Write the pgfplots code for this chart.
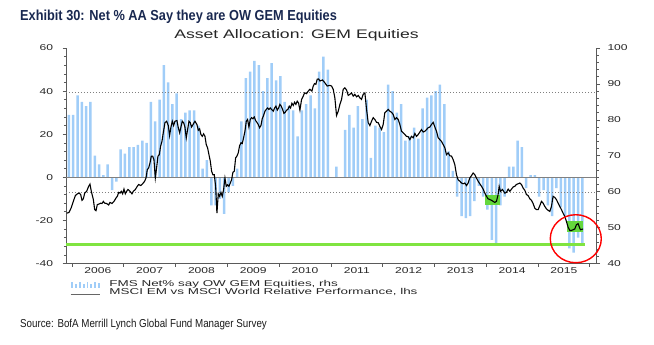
\documentclass[border=0pt]{standalone}
\usepackage{fontspec}
\usepackage{pgfplots}
\pgfplotsset{compat=1.18}
\setmainfont{Liberation Sans}
\newfontfamily\chartfont[FakeStretch=1.42]{Liberation Sans}
\newfontfamily\legfont[FakeStretch=1.58]{Liberation Sans}
\newfontfamily\titlefont[FakeStretch=0.88]{Liberation Sans}
\newfontfamily\srcfont[FakeStretch=0.85]{Liberation Sans}
\definecolor{barblue}{RGB}{160,205,248}
\definecolor{fmsgreen}{RGB}{128,228,64}
\definecolor{boxgreen}{RGB}{100,215,60}
\definecolor{titleblue}{RGB}{25,40,80}
\definecolor{axgray}{RGB}{90,90,90}
\begin{document}
\begin{tikzpicture}[x=1pt,y=1pt]
\path[use as bounding box] (-66,-81.5) rectangle (588,263.5);
\begin{axis}[
  at={(0,0)}, anchor=south west, scale only axis,
  width=530.5pt, height=215.5pt,
  xmin=2005.884, xmax=2016.13, ymin=-40, ymax=60,
  axis y line*=left, axis x line*=bottom,
  axis line style={-, axgray, line width=0.8pt},
  xtick={2006,2007,2008,2009,2010,2011,2012,2013,2014,2015,2016},
  x tick label as interval,
  xticklabels={2006,2007,2008,2009,2010,2011,2012,2013,2014,2015},
  ytick={-40,-20,0,20,40,60},
  yticklabels={-40,-20,0,20,40,60},
  minor y tick num=4,
  tick align=outside, major tick length=3.5pt, minor tick length=2.2pt,
  tick style={axgray, line width=0.6pt},
  tick label style={font=\chartfont\fontsize{8.5}{10}\selectfont, text=black!85},
  yticklabel style={xshift=-6pt},
  xticklabel style={yshift=2.5pt},
]
\addplot[ybar, bar width=2.5pt, fill=barblue, draw=none] table {
2005.940 29
2006.023 29
2006.107 38
2006.190 35
2006.273 33
2006.357 35
2006.440 10
2006.523 6
2006.607 1
2006.690 6
2006.773 -6
2006.857 -2
2006.940 13
2007.023 11
2007.107 14
2007.190 14
2007.273 15
2007.357 17
2007.440 16
2007.523 35
2007.607 26
2007.690 36
2007.773 52
2007.857 44
2007.940 34
2008.023 39
2008.107 27
2008.190 30
2008.273 31
2008.357 31
2008.440 24
2008.523 4
2008.607 8
2008.690 -13
2008.773 -13
2008.857 -10
2008.940 -17
2009.023 -7
2009.107 -4
2009.190 4
2009.273 26
2009.357 46
2009.440 49
2009.523 54
2009.607 52
2009.690 40
2009.773 46
2009.857 53
2009.940 45
2010.023 47
2010.107 35
2010.190 33
2010.273 31
2010.357 19
2010.440 31
2010.523 34
2010.607 38
2010.690 32
2010.773 49
2010.857 56
2010.940 50
2011.107 5
2011.273 22
2011.357 29
2011.440 23
2011.523 33
2011.607 27
2011.690 36
2011.773 9
2011.857 24
2011.940 23
2012.023 21
2012.107 43
2012.190 40
2012.273 30
2012.357 34
2012.440 17
2012.523 19
2012.607 23
2012.690 18
2012.773 32
2012.857 37
2012.940 38
2013.023 40
2013.107 43
2013.190 34
2013.273 12
2013.357 3
2013.440 -9
2013.523 -18
2013.607 -19
2013.690 -18
2013.773 -11
2013.857 -4
2013.940 -9
2014.023 -15
2014.107 -29
2014.190 -31
2014.273 -13
2014.357 -9
2014.440 5
2014.523 5
2014.607 17
2014.690 14
2014.773 -5
2014.857 1
2014.940 1
2015.023 -9
2015.107 -6
2015.190 -13
2015.273 -18
2015.357 -5
2015.440 -14
2015.523 -18
2015.607 -33
2015.690 -35
2015.773 -28
2015.857 -31
};
\addplot[black!50, line width=0.8pt] coordinates {(2005.884,0) (2016.13,0)};
\addplot[black!50, line width=0.8pt, dash pattern=on 1.2pt off 1.8pt] coordinates {(2005.884,39.2) (2016.13,39.2)};
\addplot[black!50, line width=0.8pt, dash pattern=on 1.2pt off 1.8pt] coordinates {(2005.884,-7.2) (2016.13,-7.2)};
\addplot[fmsgreen, line width=3.5pt] coordinates {(2005.884,-31.2) (2015.90,-31.2)};
\end{axis}
\begin{axis}[
  at={(0,0)}, anchor=south west, scale only axis,
  width=530.5pt, height=215.5pt,
  xmin=2005.884, xmax=2016.13, ymin=40, ymax=100,
  axis y line*=right, axis x line=none,
  axis line style={-, axgray, line width=0.8pt},
  xtick=\empty,
  ytick={40,50,60,70,80,90,100},
  yticklabels={40,50,60,70,80,90,100},
  minor y tick num=4,
  tick align=outside, major tick length=3.5pt, minor tick length=2.2pt,
  tick style={axgray, line width=0.6pt},
  tick label style={font=\chartfont\fontsize{8.5}{10}\selectfont, text=black!85},
  yticklabel style={xshift=4pt},
  clip=false,
]
\addplot[fill=boxgreen, draw=none] coordinates {(2013.97,56.4) (2014.26,56.4) (2014.26,59.2) (2013.97,59.2)} -- cycle;
\addplot[fill=boxgreen, draw=none] coordinates {(2015.56,48.7) (2015.87,48.7) (2015.87,51.9) (2015.56,51.9)} -- cycle;
\addplot[black, line width=1.1pt] table {
2005.897 54.0
2005.942 54.2
2005.981 55.4
2006.026 57.3
2006.064 58.9
2006.103 59.4
2006.142 59.6
2006.167 59.2
2006.193 57.6
2006.219 58.0
2006.245 59.6
2006.283 60.1
2006.322 61.5
2006.347 62.1
2006.373 60.1
2006.412 57.8
2006.438 55.0
2006.463 54.7
2006.489 56.4
2006.528 56.6
2006.553 56.8
2006.579 56.7
2006.605 57.3
2006.631 56.8
2006.669 56.7
2006.708 56.3
2006.734 57.0
2006.772 56.7
2006.811 57.3
2006.849 58.2
2006.875 58.7
2006.901 59.8
2006.927 59.6
2006.952 60.1
2006.978 59.4
2007.004 60.7
2007.030 59.4
2007.055 60.1
2007.081 60.6
2007.120 60.1
2007.158 59.4
2007.184 60.1
2007.223 60.6
2007.261 61.5
2007.287 62.0
2007.326 61.7
2007.364 62.2
2007.403 62.9
2007.429 63.8
2007.454 66.1
2007.480 66.6
2007.506 68.0
2007.532 69.9
2007.557 69.9
2007.583 68.9
2007.609 63.8
2007.634 66.6
2007.660 69.9
2007.686 70.3
2007.712 72.7
2007.737 74.0
2007.763 76.4
2007.795 79.2
2007.828 79.6
2007.860 78.4
2007.885 75.6
2007.911 78.0
2007.937 79.6
2007.963 78.4
2007.988 79.6
2008.027 79.8
2008.053 77.8
2008.079 76.4
2008.104 78.0
2008.130 79.6
2008.156 79.2
2008.181 78.0
2008.207 75.0
2008.233 77.3
2008.259 79.6
2008.284 79.2
2008.310 78.0
2008.349 79.0
2008.375 79.6
2008.413 78.7
2008.439 77.1
2008.465 77.5
2008.490 75.9
2008.516 75.4
2008.542 76.1
2008.568 75.4
2008.593 73.1
2008.619 72.2
2008.645 70.3
2008.671 68.5
2008.696 65.7
2008.722 64.7
2008.748 64.7
2008.774 61.5
2008.799 54.0
2008.825 59.4
2008.851 58.7
2008.877 59.8
2008.902 58.7
2008.928 60.6
2008.954 63.8
2008.979 61.5
2009.005 61.9
2009.031 61.5
2009.057 62.4
2009.082 63.3
2009.108 65.4
2009.134 65.7
2009.160 69.4
2009.185 69.9
2009.211 70.8
2009.237 72.8
2009.263 73.6
2009.288 73.4
2009.314 75.0
2009.340 76.8
2009.366 79.6
2009.391 80.1
2009.417 78.0
2009.443 80.1
2009.468 80.6
2009.494 80.3
2009.520 80.8
2009.546 79.8
2009.571 79.3
2009.597 78.7
2009.623 77.8
2009.649 78.4
2009.674 80.3
2009.700 81.2
2009.726 82.4
2009.752 82.9
2009.777 83.3
2009.803 82.9
2009.829 83.3
2009.887 82.4
2009.913 83.3
2009.938 83.8
2009.964 82.7
2009.990 83.3
2010.015 84.3
2010.041 83.8
2010.067 82.9
2010.093 81.8
2010.118 82.1
2010.144 82.7
2010.170 82.9
2010.196 83.8
2010.221 83.3
2010.247 84.6
2010.273 84.0
2010.299 84.9
2010.324 84.3
2010.350 85.2
2010.376 84.7
2010.402 82.7
2010.434 85.7
2010.466 86.6
2010.492 87.5
2010.530 87.3
2010.562 88.0
2010.595 88.5
2010.633 88.0
2010.659 89.4
2010.685 90.1
2010.710 89.9
2010.736 91.3
2010.762 91.4
2010.788 90.8
2010.839 91.1
2010.884 90.3
2010.929 89.4
2010.981 89.6
2011.013 89.4
2011.045 88.5
2011.077 86.1
2011.109 81.2
2011.142 82.4
2011.174 84.3
2011.206 85.7
2011.238 88.5
2011.270 88.9
2011.303 88.3
2011.335 86.8
2011.367 87.1
2011.399 87.5
2011.431 86.6
2011.463 87.1
2011.496 86.4
2011.528 86.8
2011.560 86.1
2011.592 85.7
2011.624 87.1
2011.657 87.5
2011.689 82.9
2011.721 79.2
2011.753 78.4
2011.785 79.6
2011.817 80.6
2011.849 80.1
2011.882 79.3
2011.914 79.2
2011.946 78.2
2011.978 77.3
2012.010 78.7
2012.042 82.0
2012.075 82.4
2012.107 82.9
2012.139 82.4
2012.171 82.1
2012.203 81.5
2012.236 80.1
2012.268 80.6
2012.300 80.1
2012.332 78.7
2012.364 76.8
2012.397 76.4
2012.429 75.9
2012.461 75.4
2012.493 75.3
2012.525 74.5
2012.557 75.4
2012.590 75.0
2012.622 76.2
2012.654 75.4
2012.686 75.9
2012.718 76.6
2012.750 77.3
2012.783 76.6
2012.815 76.8
2012.847 77.3
2012.879 77.8
2012.911 78.0
2012.943 78.7
2012.976 79.3
2013.008 78.0
2013.040 76.8
2013.072 75.0
2013.104 74.5
2013.136 74.0
2013.169 73.1
2013.201 72.2
2013.233 70.3
2013.265 70.8
2013.297 70.0
2013.330 69.9
2013.362 68.9
2013.394 67.5
2013.426 64.7
2013.458 63.3
2013.490 62.9
2013.523 62.4
2013.555 62.2
2013.587 62.4
2013.619 61.7
2013.651 62.4
2013.683 63.8
2013.716 64.5
2013.748 65.2
2013.780 64.7
2013.812 63.8
2013.844 62.9
2013.876 62.2
2013.909 61.5
2013.941 60.7
2013.973 59.6
2014.005 58.7
2014.037 58.0
2014.069 57.8
2014.102 57.6
2014.134 57.3
2014.166 57.0
2014.198 57.3
2014.230 59.2
2014.250 61.5
2014.276 60.1
2014.314 60.6
2014.359 59.6
2014.391 59.8
2014.424 60.7
2014.456 60.1
2014.488 60.7
2014.520 61.3
2014.552 61.5
2014.584 62.0
2014.617 62.2
2014.649 62.4
2014.681 62.0
2014.713 61.0
2014.745 60.4
2014.777 59.2
2014.810 58.9
2014.842 58.0
2014.874 57.6
2014.906 56.7
2014.938 55.4
2014.971 55.0
2015.003 55.0
2015.035 56.1
2015.067 57.3
2015.099 56.8
2015.131 55.9
2015.164 55.2
2015.196 54.8
2015.228 54.5
2015.260 55.9
2015.292 58.7
2015.324 58.4
2015.356 57.8
2015.389 56.8
2015.421 55.9
2015.453 55.0
2015.485 54.0
2015.517 53.1
2015.549 51.7
2015.582 50.1
2015.614 49.2
2015.646 49.2
2015.678 49.4
2015.710 49.6
2015.742 50.8
2015.775 51.1
2015.794 50.3
2015.820 49.4
2015.871 49.6
};
\draw[red, line width=1.4pt] (axis cs:2015.73,46.9) ellipse [x radius=25.5pt, y radius=24pt];
\end{axis}
% legend
\foreach \i/\h in {0/6,1/3.5,2/6,3/3.5,4/6,5/3.5,6/6,7/4.5}{
  \fill[barblue] ({5.5+\i*3.8},-24.5) rectangle ({7.2+\i*3.8},{-24.5+\h});
}
\node[anchor=base west, inner sep=0, font=\legfont\fontsize{8.5}{9}\selectfont, text=black!85] at (43.3,-23.3) {FMS Net\% say OW GEM Equities, rhs};
\draw[black!60, line width=1pt] (4.7,-30.8) -- (34,-30.8);
\node[anchor=base west, inner sep=0, font=\legfont\fontsize{8.5}{9}\selectfont, text=black!85] at (43.3,-30.8) {MSCI EM vs MSCI World Relative Performance, lhs};
% titles
\node[anchor=base, inner sep=0, font=\chartfont\fontsize{12.4}{14}\selectfont, text=black!85] at (230.5,224.5) {Asset Allocation: GEM Equities};
\node[anchor=base west, inner sep=0, font=\titlefont\bfseries\fontsize{14.5}{16}\selectfont, text=titleblue] at (-46,242.8) {Exhibit 30: Net \% AA Say they are OW GEM Equities};
\node[anchor=base west, inner sep=0, font=\srcfont\fontsize{11.5}{13}\selectfont, text=black!90] at (-46,-64) {Source: BofA Merrill Lynch Global Fund Manager Survey};
\end{tikzpicture}
\end{document}
